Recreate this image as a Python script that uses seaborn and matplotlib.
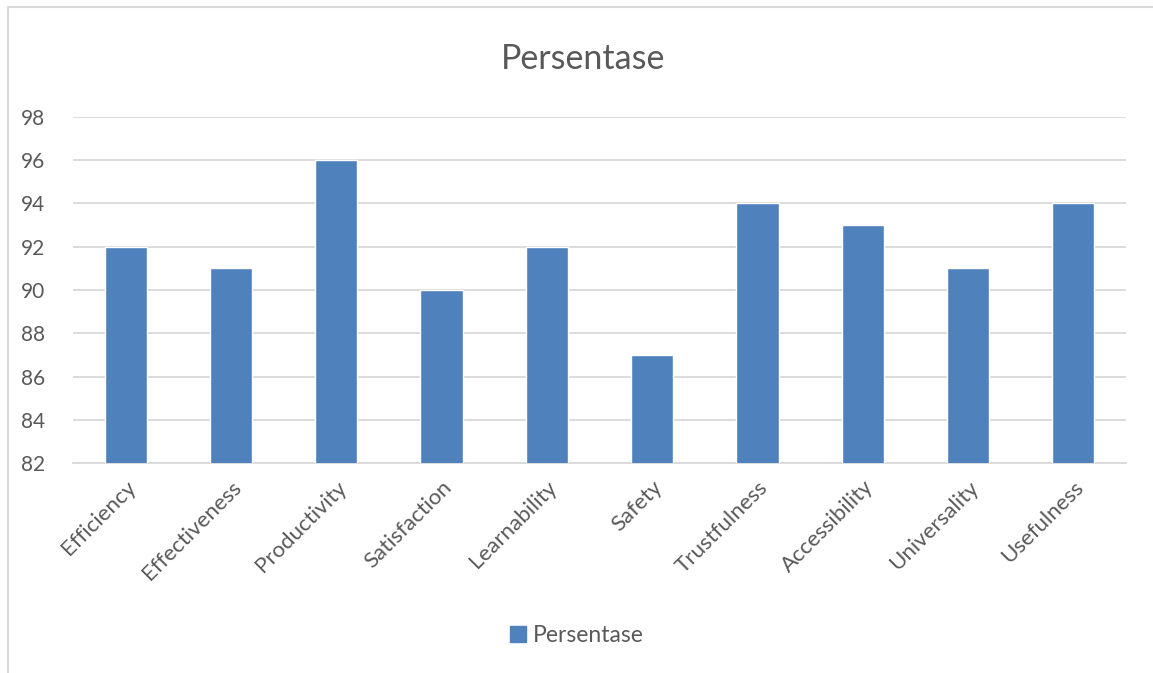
import matplotlib
matplotlib.use("Agg")
import matplotlib.pyplot as plt
import matplotlib.patches as mpatches
import seaborn as sns
import pandas as pd

categories = ["Efficiency", "Effectiveness", "Productivity", "Satisfaction", "Learnability",
              "Safety", "Trustfulness", "Accessibility", "Universality", "Usefulness"]
values = [92, 91, 96, 90, 92, 87, 94, 93, 91, 94]
y_ticks = [82, 84, 86, 88, 90, 92, 94, 96, 98]
series_name = "Persentase"

bar_color = "#4F81BD"
text_color = "#595959"
grid_color = "#D9D9D9"

sns.set_style("white")
plt.rcParams["font.family"] = ["Lato", "DejaVu Sans"]

df = pd.DataFrame({"category": categories, "value": values})

fig = plt.figure(figsize=(11.53, 6.73), dpi=100)
ax = fig.add_axes([0.0633, 0.312, 0.9133, 0.5142])

sns.barplot(data=df, x="category", y="value", color=bar_color, width=0.4,
            saturation=1, ax=ax, zorder=3)

ax.set_ylim(82, 98)
ax.set_yticks(y_ticks)
ax.set_xlim(-0.5, len(categories) - 0.5)
ax.yaxis.grid(True, color=grid_color, linewidth=1.3, zorder=0)
ax.set_axisbelow(True)
for s in ["top", "right", "left"]:
    ax.spines[s].set_visible(False)
ax.spines["bottom"].set_color(grid_color)
ax.spines["bottom"].set_linewidth(1.3)
ax.set_xlabel("")
ax.set_ylabel("")
ax.tick_params(axis="both", length=0, colors=text_color)
ax.tick_params(axis="y", pad=20, labelsize=15)
ax.tick_params(axis="x", pad=10, labelsize=16)
plt.setp(ax.get_xticklabels(), rotation=45, ha="right", rotation_mode="anchor")

fig.text(0.506, 0.913, series_name, ha="center", va="center", fontsize=24.5, color=text_color)

handle = mpatches.Patch(color=bar_color, label=series_name)
fig.legend(handles=[handle], loc="center", bbox_to_anchor=(0.5, 0.056), frameon=False,
           fontsize=16.5, labelcolor=text_color, handlelength=0.7, handleheight=0.7,
           handletextpad=0.3)

# outer chart frame (only top and left edges visible in the crop)
fig.patches.append(mpatches.Rectangle((8 / 1153, -0.05), 1.2, 1 - 7 / 673 + 0.05,
                                      transform=fig.transFigure, fill=False,
                                      edgecolor="#D9D9D9", linewidth=1.5))

fig.savefig("out.png", dpi=100)
